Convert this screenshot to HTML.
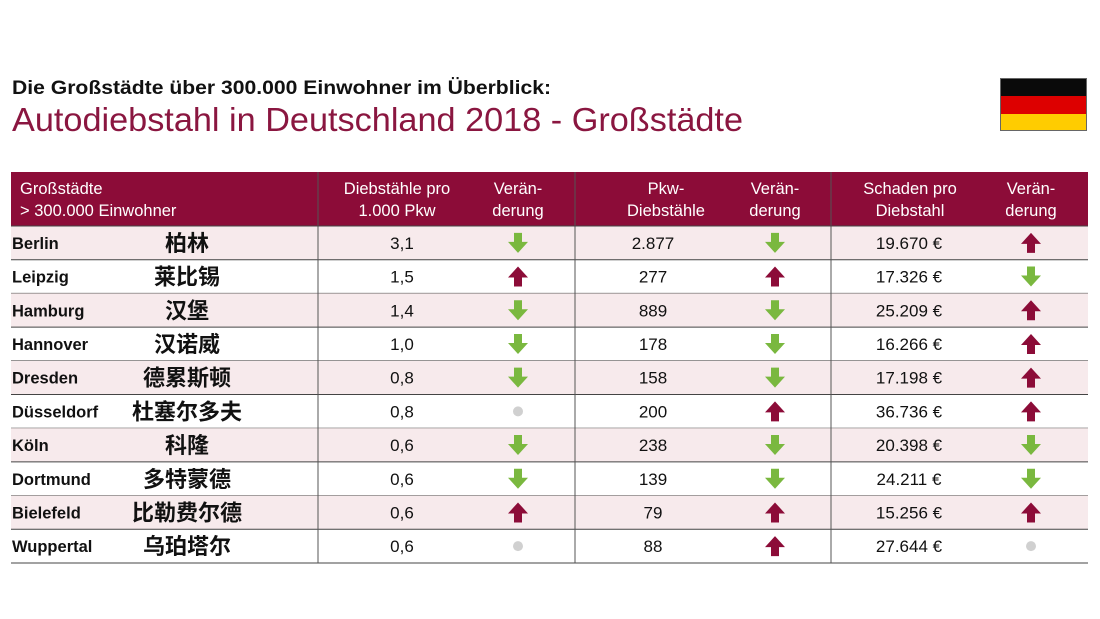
<!DOCTYPE html>
<html><head><meta charset="utf-8"><style>
html,body{margin:0;padding:0;background:#fff;width:1100px;height:619px;overflow:hidden}
svg{display:block;font-family:"Liberation Sans","Noto Sans CJK SC",sans-serif}
</style></head><body>
<svg id="c" width="1100" height="619">
<text x="12" y="94" font-size="19" font-weight="bold" textLength="539" lengthAdjust="spacingAndGlyphs" fill="#111">Die Großstädte über 300.000 Einwohner im Überblick:</text>
<text x="12" y="131" font-size="33" textLength="731" lengthAdjust="spacingAndGlyphs" fill="#8a1640">Autodiebstahl in Deutschland 2018 - Großstädte</text>
<g>
<rect x="1000" y="78" width="87" height="18" fill="#0a0a0a"/>
<rect x="1000" y="96" width="87" height="18" fill="#dd0000"/>
<rect x="1000" y="114" width="87" height="17" fill="#ffcc00"/>
<rect x="1000.5" y="78.5" width="86" height="52" fill="none" stroke="#666" stroke-width="1"/>
</g>
<rect x="11" y="172" width="1077" height="54" fill="#8c0c38"/>
<g id="hdr" fill="#fff" font-size="16.5" text-anchor="middle">
<text x="20" y="194" text-anchor="start">Großstädte</text>
<text x="20" y="216" text-anchor="start">&gt; 300.000 Einwohner</text>
<text x="397" y="194">Diebstähle pro</text><text x="397" y="216">1.000 Pkw</text>
<text x="518" y="194">Verän-</text><text x="518" y="216">derung</text>
<text x="666" y="194">Pkw-</text><text x="666" y="216">Diebstähle</text>
<text x="775" y="194">Verän-</text><text x="775" y="216">derung</text>
<text x="910" y="194">Schaden pro</text><text x="910" y="216">Diebstahl</text>
<text x="1031" y="194">Verän-</text><text x="1031" y="216">derung</text>
</g>
<g id="rows"></g>
</svg>
<script>
const cities=["Berlin","Leipzig","Hamburg","Hannover","Dresden","Düsseldorf","Köln","Dortmund","Bielefeld","Wuppertal"];
const cnNames=["柏林","莱比锡","汉堡","汉诺威","德累斯顿","杜塞尔多夫","科隆","多特蒙德","比勒费尔德","乌珀塔尔"];
const ratePer1000=["3,1","1,5","1,4","1,0","0,8","0,8","0,6","0,6","0,6","0,6"];
const rateChange=["d","u","d","d","d","n","d","d","u","n"];
const thefts=["2.877","277","889","178","158","200","238","139","79","88"];
const theftChange=["d","u","d","d","d","u","d","d","u","u"];
const damage=["19.670 €","17.326 €","25.209 €","16.266 €","17.198 €","36.736 €","20.398 €","24.211 €","15.256 €","27.644 €"];
const damageChange=["u","d","u","u","u","u","d","d","u","n"];

const NS="http://www.w3.org/2000/svg";
const g=document.getElementById('rows');
const top0=226,rh=33.7;
function mk(t,a,p){const e=document.createElementNS(NS,t);for(const k in a)e.setAttribute(k,a[k]);(p||g).appendChild(e);return e;}
function txt(x,y,s,size,anchor,extra,p){const e=mk('text',Object.assign({x:x,y:y,'font-size':size,'text-anchor':anchor,fill:'#111'},extra||{}),p);e.textContent=s;return e;}
function arrow(cx,cy,k,p){
  if(k==='n'){const c=mk('circle',{cx:cx,cy:cy,r:5,fill:'#d0d0d0'},p);return;}
  let d;
  if(k==='u') d=`M${cx},${cy-10} L${cx+10},${cy+1} L${cx+4},${cy+1} L${cx+4},${cy+10} L${cx-4},${cy+10} L${cx-4},${cy+1} L${cx-10},${cy+1} Z`;
  else d=`M${cx},${cy+10} L${cx+10},${cy-1} L${cx+4},${cy-1} L${cx+4},${cy-10} L${cx-4},${cy-10} L${cx-4},${cy-1} L${cx-10},${cy-1} Z`;
  const a=mk('path',{d:d,fill:k==='u'?'#8c0c38':'#7ab83f'},p);
  
  
}
cities.forEach((c,i)=>{
  const y=top0+i*rh, cy=y+rh/2;
  const r=mk('g',{});
  
  
  if(i%2===0) mk('rect',{x:11,y:y,width:1077,height:rh,fill:'#f7eaec'},r);
  mk('line',{x1:11,x2:1088,y1:y+rh,y2:y+rh,stroke:'#444','stroke-width':1},r);
  txt(12,cy+6,c,16.5,'start',{'font-weight':'bold'},r);
  txt(187,cy+8,cnNames[i],22,'middle',{'font-weight':'bold','font-family':'"Noto Sans CJK SC",sans-serif'},r);
  txt(402,cy+6,ratePer1000[i],17,'middle',{},r);
  arrow(518,cy,rateChange[i],r);
  txt(653,cy+6,thefts[i],17,'middle',{},r);
  arrow(775,cy,theftChange[i],r);
  txt(909,cy+6,damage[i],17,'middle',{},r);
  arrow(1031,cy,damageChange[i],r);
});
[318,575,831].forEach(x=>{
  const l=mk('line',{x1:x,x2:x,y1:172,y2:top0+cities.length*rh,stroke:'#555','stroke-width':1});
  
  
});
mk('line',{x1:11,x2:1088,y1:top0,y2:top0,stroke:'#444','stroke-width':1});
</script>
</body></html>
